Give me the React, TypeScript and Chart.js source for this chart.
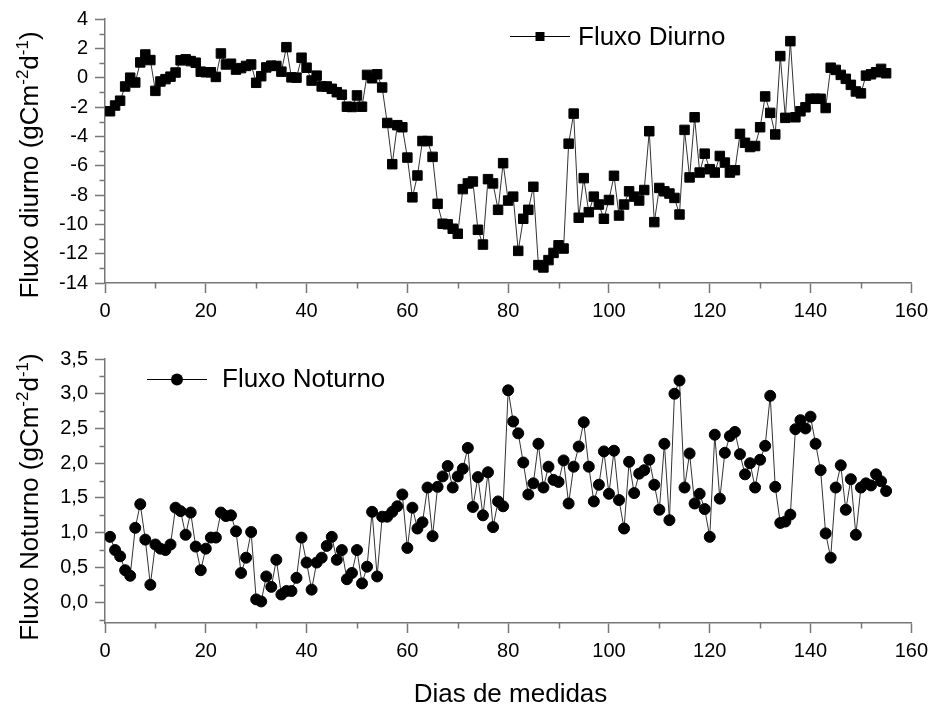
import React, { useEffect, useRef } from "react";
import { Chart, registerables } from "chart.js";

Chart.register(...registerables);

// ---------- DATA ----------
const days = [
  1, 2, 3, 4, 5, 6, 7, 8, 9, 10, 11, 12, 13, 14, 15, 16, 17, 18, 19, 20,
  21, 22, 23, 24, 25, 26, 27, 28, 29, 30, 31, 32, 33, 34, 35, 36, 37, 38, 39, 40,
  41, 42, 43, 44, 45, 46, 47, 48, 49, 50, 51, 52, 53, 54, 55, 56, 57, 58, 59, 60,
  61, 62, 63, 64, 65, 66, 67, 68, 69, 70, 71, 72, 73, 74, 75, 76, 77, 78, 79, 80,
  81, 82, 83, 84, 85, 86, 87, 88, 89, 90, 91, 92, 93, 94, 95, 96, 97, 98, 99, 100,
  101, 102, 103, 104, 105, 106, 107, 108, 109, 110, 111, 112, 113, 114, 115, 116, 117, 118, 119, 120,
  121, 122, 123, 124, 125, 126, 127, 128, 129, 130, 131, 132, 133, 134, 135, 136, 137, 138, 139, 140,
  141, 142, 143, 144, 145, 146, 147, 148, 149, 150, 151, 152, 153, 154, 155,
];

const fluxoDiurno = [
  -2.29, -1.9, -1.57, -0.6, 0.0, -0.33, 1.04, 1.58, 1.2, -0.9,
  -0.26, -0.1, 0.07, 0.35, 1.18, 1.25, 1.13, 1.02, 0.41, 0.37,
  0.37, 0.05, 1.65, 0.9, 0.95, 0.55, 0.65, 0.8, 0.9, -0.35,
  0.1, 0.7, 0.82, 0.8, 0.41, 2.08, 0.02, 0.0, 1.36, 0.68,
  -0.2, 0.14, -0.6, -0.6, -0.76, -0.99, -1.16, -1.98, -2.0, -1.21,
  -1.98, 0.19, -0.04, 0.23, -0.67, -3.09, -5.9, -3.24, -3.38, -5.45,
  -8.16, -6.67, -4.32, -4.32, -5.4, -8.6, -9.96, -10.0, -10.3, -10.64,
  -7.6, -7.21, -7.08, -10.37, -11.38, -6.92, -7.21, -9.01, -5.83, -8.38,
  -8.11, -11.81, -9.62, -9.01, -7.44, -12.78, -12.94, -12.44, -11.95, -11.43,
  -11.65, -4.5, -2.45, -9.55, -6.85, -9.17, -8.11, -8.65, -9.62, -8.34,
  -6.69, -9.4, -8.65, -7.75, -8.11, -8.38, -7.66, -3.65, -9.85, -7.52,
  -7.75, -7.9, -8.2, -9.33, -3.56, -6.8, -2.7, -6.47, -5.18, -6.24,
  -6.47, -5.34, -5.79, -6.47, -6.31, -3.83, -4.44, -4.73, -4.66, -3.38,
  -1.28, -2.4, -3.87, 1.47, -2.74, 2.49, -2.7, -2.29, -2.02, -1.44,
  -1.44, -1.44, -2.07, 0.68, 0.53, 0.19, -0.08, -0.49, -0.94, -1.07,
  0.14, 0.23, 0.37, 0.6, 0.3,
];

const fluxoNoturno = [
  0.94, 0.75, 0.66, 0.46, 0.38, 1.07, 1.41, 0.9, 0.25, 0.83,
  0.77, 0.75, 0.83, 1.36, 1.31, 0.97, 1.29, 0.8, 0.46, 0.77,
  0.93, 0.93, 1.29, 1.24, 1.25, 1.02, 0.42, 0.64, 1.01, 0.04,
  0.01, 0.37, 0.22, 0.61, 0.11, 0.16, 0.16, 0.35, 0.93, 0.57,
  0.18, 0.57, 0.64, 0.81, 0.94, 0.61, 0.75, 0.33, 0.42, 0.75,
  0.27, 0.51, 1.3, 0.37, 1.23, 1.23, 1.3, 1.38, 1.55, 0.78,
  1.36, 1.06, 1.15, 1.65, 0.95, 1.66, 1.81, 1.96, 1.65, 1.81,
  1.92, 2.22, 1.37, 1.8, 1.25, 1.87, 1.08, 1.45, 1.38, 3.05,
  2.6, 2.43, 2.01, 1.55, 1.71, 2.28, 1.65, 1.95, 1.76, 1.73,
  2.04, 1.42, 1.95, 2.24, 2.59, 1.95, 1.45, 1.69, 2.17, 1.56,
  2.18, 1.47, 1.06, 2.02, 1.57, 1.85, 1.9, 2.05, 1.69, 1.33,
  2.28, 1.18, 3.0, 3.19, 1.65, 2.14, 1.42, 1.56, 1.34, 0.94,
  2.41, 1.49, 2.15, 2.39, 2.45, 2.13, 1.84, 2.0, 1.65, 2.05,
  2.25, 2.97, 1.66, 1.14, 1.16, 1.26, 2.49, 2.62, 2.5, 2.67,
  2.28, 1.9, 0.99, 0.64, 1.65, 1.97, 1.33, 1.77, 0.97, 1.65,
  1.71, 1.68, 1.84, 1.74, 1.6,
];

const xTicks = [0, 20, 40, 60, 80, 100, 120, 140, 160];
const xMinorTicks = [10, 30, 50, 70, 90, 110, 130, 150];
const diurnoTicks = [-14, -12, -10, -8, -6, -4, -2, 0, 2, 4];
const diurnoMinorTicks = [-13, -11, -9, -7, -5, -3, -1, 1, 3];
const noturnoTicks = [0, 0.5, 1.0, 1.5, 2.0, 2.5, 3.0, 3.5];
const noturnoMinorTicks = [-0.25, 0.25, 0.75, 1.25, 1.75, 2.25, 2.75, 3.25];

const labelDiurno = "Fluxo Diurno";
const labelNoturno = "Fluxo Noturno";
const yTitleDiurno = [
  { text: "Fluxo diurno (gCm", sup: false },
  { text: "-2", sup: true },
  { text: "d", sup: false },
  { text: "-1", sup: true },
  { text: ")", sup: false },
];
const yTitleNoturno = [
  { text: "Fluxo Noturno (gCm", sup: false },
  { text: "-2", sup: true },
  { text: "d", sup: false },
  { text: "-1", sup: true },
  { text: ")", sup: false },
];
const xTitle = "Dias de medidas";

// ---------- STYLE ----------
const FONT = "'Liberation Sans', Arial, Helvetica, sans-serif";
const AXIS_COLOR = "#777777";
const LINE_COLOR = "#333333";

const decorPlugin = {
  id: "decor",
  afterDraw(chart: any, _args: any, opts: any) {
    const ctx = chart.ctx as CanvasRenderingContext2D;
    const xs = chart.scales.x;
    const ys = chart.scales.y;
    ctx.save();
    // minor ticks
    ctx.strokeStyle = AXIS_COLOR;
    ctx.lineWidth = 1.5;
    ctx.beginPath();
    for (const v of opts.xMinor || []) {
      const px = Math.round(xs.getPixelForValue(v)) + 0.5;
      ctx.moveTo(px, xs.top);
      ctx.lineTo(px, xs.top + 5.5);
    }
    for (const v of opts.yMinor || []) {
      const py = Math.round(ys.getPixelForValue(v)) + 0.5;
      ctx.moveTo(ys.right - 5.5, py);
      ctx.lineTo(ys.right, py);
    }
    ctx.stroke();

    // legend
    const lg = opts.legend;
    if (lg) {
      ctx.strokeStyle = "#000";
      ctx.lineWidth = 1;
      ctx.beginPath();
      ctx.moveTo(lg.x1, lg.y + 0.5);
      ctx.lineTo(lg.x2, lg.y + 0.5);
      ctx.stroke();
      const cx = (lg.x1 + lg.x2) / 2;
      ctx.fillStyle = "#000";
      if (lg.marker === "rect") {
        ctx.fillRect(cx - 4.5, lg.y - 4, 9, 9);
      } else {
        ctx.beginPath();
        ctx.arc(cx, lg.y + 0.5, 6, 0, Math.PI * 2);
        ctx.fill();
      }
      ctx.font = `26px ${FONT}`;
      ctx.textAlign = "left";
      ctx.textBaseline = "alphabetic";
      ctx.fillText(lg.text, lg.textX, lg.baseline);
    }

    // y title with superscripts
    const yt = opts.yTitle;
    if (yt) {
      ctx.save();
      ctx.translate(yt.baseX, yt.cy);
      ctx.rotate(-Math.PI / 2);
      ctx.fillStyle = "#000";
      ctx.textAlign = "left";
      ctx.textBaseline = "alphabetic";
      let total = 0;
      const widths: number[] = [];
      for (const p of yt.parts) {
        ctx.font = p.sup ? `17px ${FONT}` : `26px ${FONT}`;
        const w = ctx.measureText(p.text).width;
        widths.push(w);
        total += w;
      }
      let x = -total / 2;
      yt.parts.forEach((p: any, i: number) => {
        ctx.font = p.sup ? `17px ${FONT}` : `26px ${FONT}`;
        ctx.fillText(p.text, x, p.sup ? -10 : 0);
        x += widths[i];
      });
      ctx.restore();
    }

    // x title
    const xt = opts.xTitle;
    if (xt) {
      ctx.fillStyle = "#000";
      ctx.font = `26px ${FONT}`;
      ctx.textAlign = "center";
      ctx.textBaseline = "alphabetic";
      ctx.fillText(xt.text, xt.cx, xt.baseline);
    }
    ctx.restore();
  },
};

function makeConfig(
  values: number[],
  label: string,
  pointStyle: string,
  pointRadius: number,
  yMin: number,
  yMax: number,
  yTicks: number[],
  yFormat: (v: number) => string,
  xHeight: number,
  padTop: number,
  decor: any
): any {
  return {
    type: "line",
    data: {
      datasets: [
        {
          label,
          data: days.map((d, i) => ({ x: d, y: values[i] })),
          borderColor: LINE_COLOR,
          borderWidth: 1,
          pointStyle,
          pointRadius,
          pointBackgroundColor: "#000",
          pointBorderColor: "#000",
          pointBorderWidth: 1,
          tension: 0,
          fill: false,
        },
      ],
    },
    options: {
      responsive: false,
      animation: false,
      devicePixelRatio: 1,
      layout: { padding: { left: 0, right: 20, top: padTop, bottom: 0 } },
      plugins: {
        legend: { display: false },
        tooltip: { enabled: false },
        decor,
      },
      scales: {
        x: {
          type: "linear",
          min: 0,
          max: 160,
          afterBuildTicks: (s: any) => {
            s.ticks = xTicks.map((v) => ({ value: v }));
          },
          afterFit: (s: any) => {
            s.height = xHeight;
          },
          ticks: {
            font: { family: FONT, size: 20 },
            color: "#000",
            padding: 6,
            maxRotation: 0,
            autoSkip: false,
          },
          grid: {
            drawOnChartArea: false,
            drawTicks: true,
            tickLength: 10,
            tickColor: AXIS_COLOR,
            tickWidth: 1.5,
          },
          border: { display: true, color: AXIS_COLOR, width: 1.5 },
        },
        y: {
          type: "linear",
          min: yMin,
          max: yMax,
          afterBuildTicks: (s: any) => {
            s.ticks = yTicks.map((v) => ({ value: v }));
          },
          afterFit: (s: any) => {
            s.width = 105;
          },
          ticks: {
            font: { family: FONT, size: 20 },
            color: "#000",
            padding: 7,
            autoSkip: false,
            callback: (v: any) => yFormat(Number(v)),
          },
          grid: {
            drawOnChartArea: false,
            drawTicks: true,
            tickLength: 10,
            tickColor: AXIS_COLOR,
            tickWidth: 1.5,
          },
          border: { display: true, color: AXIS_COLOR, width: 1.5 },
        },
      },
    },
    plugins: [decorPlugin],
  };
}

export default function App() {
  const topRef = useRef<HTMLCanvasElement | null>(null);
  const botRef = useRef<HTMLCanvasElement | null>(null);

  useEffect(() => {
    const c1 = new Chart(
      topRef.current as HTMLCanvasElement,
      makeConfig(
        fluxoDiurno,
        labelDiurno,
        "rect",
        6.7,
        -14,
        4,
        diurnoTicks,
        (v) => String(v),
        47,
        17,
        {
          xMinor: xMinorTicks,
          yMinor: diurnoMinorTicks,
          legend: { x1: 510, x2: 570, y: 36, marker: "rect", text: labelDiurno, textX: 578, baseline: 45 },
          yTitle: { baseX: 38, cy: 165, parts: yTitleDiurno },
        }
      )
    );
    const c2 = new Chart(
      botRef.current as HTMLCanvasElement,
      makeConfig(
        fluxoNoturno,
        labelNoturno,
        "circle",
        5.5,
        -0.3,
        3.5,
        noturnoTicks,
        (v) => v.toFixed(1).replace(".", ","),
        83,
        29,
        {
          xMinor: xMinorTicks,
          yMinor: noturnoMinorTicks,
          legend: { x1: 147, x2: 207, y: 49, marker: "circle", text: labelNoturno, textX: 222, baseline: 57 },
          yTitle: { baseX: 38, cy: 167, parts: yTitleNoturno },
          xTitle: { text: xTitle, cx: 510.5, baseline: 371.5 },
        }
      )
    );
    return () => {
      c1.destroy();
      c2.destroy();
    };
  }, []);

  return (
    <div style={{ position: "absolute", left: 0, top: 0, width: 934, height: 706, background: "#fff" }}>
      <canvas ref={topRef} width={934} height={330} style={{ position: "absolute", left: 0, top: 0, display: "block" }} />
      <canvas ref={botRef} width={934} height={376} style={{ position: "absolute", left: 0, top: 330, display: "block" }} />
    </div>
  );
}
